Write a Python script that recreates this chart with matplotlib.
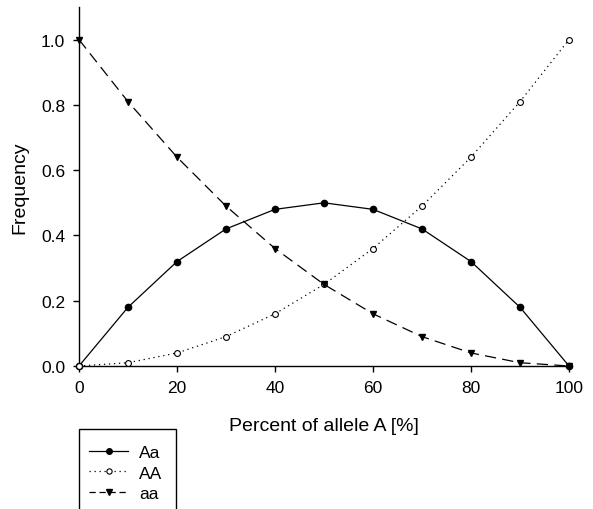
import matplotlib
matplotlib.use("Agg")
import matplotlib.pyplot as plt
from matplotlib.lines import Line2D
from matplotlib.patches import Rectangle

plt.rcParams['font.family'] = ['Liberation Sans', 'DejaVu Sans']

# Genotype frequencies against percent of allele A
percent = [0, 10, 20, 30, 40, 50, 60, 70, 80, 90, 100]
freq_Aa = [0.0, 0.18, 0.32, 0.42, 0.48, 0.50, 0.48, 0.42, 0.32, 0.18, 0.0]
freq_AA = [0.0, 0.01, 0.04, 0.09, 0.16, 0.25, 0.36, 0.49, 0.64, 0.81, 1.0]
freq_aa = [1.0, 0.81, 0.64, 0.49, 0.36, 0.25, 0.16, 0.09, 0.04, 0.01, 0.0]
x_ticks = [0, 20, 40, 60, 80, 100]
y_ticks = [0.0, 0.2, 0.4, 0.6, 0.8, 1.0]
series_names = ["Aa", "AA", "aa"]

W, H = 593, 510
fig = plt.figure(figsize=(W / 100, H / 100), dpi=100)
ax = fig.add_axes([79 / W, 1 - 367 / H, (569 - 79) / W, (367 - 8) / H])

lw = 0.9
dotted = (0, (1, 3))
dashed = (0, (9, 5))
ax.plot(percent, freq_Aa, color="black", lw=lw, ls="-", marker="o", ms=4.5,
        mfc="black", mec="black", clip_on=False, zorder=3)
ax.plot(percent, freq_AA, color="black", lw=lw, ls=dotted, marker="o", ms=4.2,
        mfc="white", mec="black", mew=0.8, clip_on=False, zorder=4)
ax.plot(percent, freq_aa, color="black", lw=lw, ls=dashed, marker="v", ms=4.8,
        mfc="black", mec="black", clip_on=False, zorder=5)

ax.set_xlim(0, 100)
ax.set_ylim(0, 1.1)
ax.set_xticks(x_ticks)
ax.set_yticks(y_ticks)
ax.set_yticklabels([f"{v:.1f}" for v in y_ticks])
for s in ("top", "right"):
    ax.spines[s].set_visible(False)
for s in ("left", "bottom"):
    ax.spines[s].set_linewidth(1.0)
ax.tick_params(direction="out", length=4.5, width=1.0, labelsize=12.5, pad=5.5)

ax.set_xlabel("Percent of allele A [%]", fontsize=14, labelpad=16)
ax.set_ylabel("Frequency", fontsize=14, labelpad=9)

# Legend panel below the axes
handles = [
    Line2D([], [], color="black", lw=lw, ls="-", marker="o", ms=4, mfc="black"),
    Line2D([], [], color="black", lw=lw, ls=dotted, marker="o", ms=3.8,
           mfc="white", mec="black", mew=0.8),
    Line2D([], [], color="black", lw=lw, ls=(0, (5, 3)), marker="v", ms=4.2, mfc="black"),
]
box = Rectangle((79 / W, -0.1), (176 - 79) / W, (0.1 + 1 - 430 / H),
                transform=fig.transFigure, fill=False, ec="black", lw=1.0)
fig.patches.append(box)
fig.legend(handles, series_names, loc="upper left",
           bbox_to_anchor=(89 / W, 1 - 446 / H), frameon=False, fontsize=12.5,
           handlelength=2.25, handletextpad=0.63, labelspacing=0.3,
           borderpad=0.0, borderaxespad=0.0)

fig.savefig("out.png", dpi=100)
